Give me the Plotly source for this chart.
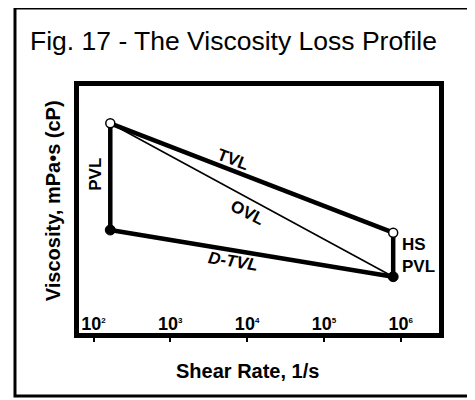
import plotly.graph_objects as go

# ---- data ----
shear_rate = [165, 8e5]                 # low-shear and high-shear points, 1/s
fresh_visc = [84.9, 40.6]               # open circles (initial oil)
used_visc = [41.7, 22.8]                # filled circles (after loss)
tick_vals = [1e2, 1e3, 1e4, 1e5, 1e6]
tick_exps = ["2", "3", "4", "5", "6"]

FONT = "Liberation Sans, Arial, Helvetica, sans-serif"
BLACK = "#000000"

fig = go.Figure()

def seg(x, y, w):
    fig.add_trace(go.Scatter(x=x, y=y, mode="lines",
                             line=dict(color=BLACK, width=w),
                             hoverinfo="skip", showlegend=False))

# TVL: fresh low -> fresh high
seg(shear_rate, fresh_visc, 4.5)
# OVL: fresh low -> used high
seg(shear_rate, [fresh_visc[0], used_visc[1]], 1.6)
# PVL: fresh low -> used low (vertical)
seg([shear_rate[0], shear_rate[0]], [fresh_visc[0], used_visc[0]], 4.5)
# D-TVL: used low -> used high
seg(shear_rate, used_visc, 4.5)
# HS PVL: fresh high -> used high (vertical)
seg([shear_rate[1], shear_rate[1]], [fresh_visc[1], used_visc[1]], 4.5)

fig.add_trace(go.Scatter(x=shear_rate, y=used_visc, mode="markers",
                         marker=dict(color=BLACK, size=10, line=dict(color=BLACK, width=1)),
                         hoverinfo="skip", showlegend=False))
fig.add_trace(go.Scatter(x=shear_rate, y=fresh_visc, mode="markers",
                         marker=dict(color="white", size=9, line=dict(color=BLACK, width=1.5)),
                         hoverinfo="skip", showlegend=False))

tick_text = ["10<sup><span style='font-size:8px'>%s</span></sup>" % e for e in tick_exps]

fig.update_xaxes(type="log", range=[1.81, 6.50],
                 tickvals=tick_vals, ticktext=tick_text,
                 ticks="outside", ticklen=4, tickwidth=1.5, tickcolor=BLACK,
                 ticklabelposition="inside",
                 tickfont=dict(family=FONT, size=18, color=BLACK, weight="bold"),
                 showline=True, linewidth=4.5, linecolor=BLACK, mirror=True,
                 showgrid=False, zeroline=False, fixedrange=True)
fig.update_yaxes(range=[0, 100], showticklabels=False, ticks="",
                 showline=True, linewidth=4.5, linecolor=BLACK, mirror=True,
                 showgrid=False, zeroline=False, fixedrange=True)

lab = dict(family=FONT, size=17, color=BLACK, weight="bold")
ann = []
ann.append(dict(x=3.816, y=70.4, xref="x", yref="y", text="TVL", textangle=21,
                showarrow=False, font=lab))
ann.append(dict(x=4.0, y=48.8, xref="x", yref="y", text="OVL", textangle=27,
                showarrow=False, font=lab))
ann.append(dict(x=3.816, y=28.8, xref="x", yref="y", text="<i>D-TVL</i>", textangle=9,
                showarrow=False, font=lab))
ann.append(dict(x=2.029, y=64.4, xref="x", yref="y", text="PVL", textangle=-90,
                showarrow=False, font=lab))
ann.append(dict(x=5.998, y=31.5, xref="x", yref="y", text="HS<br>PVL", align="left",
                xanchor="left", showarrow=False, font=lab))
# titles
ann.append(dict(x=-0.1416, y=1.182, xref="paper", yref="paper", xanchor="left", yanchor="middle",
                text="Fig. 17 - The Viscosity Loss Profile", showarrow=False,
                font=dict(family=FONT, size=26.5, color=BLACK)))
ann.append(dict(x=0.469, y=-0.154, xref="paper", yref="paper", xanchor="center", yanchor="middle",
                text="Shear Rate, 1/s", showarrow=False,
                font=dict(family=FONT, size=20, color=BLACK, weight="bold")))
ann.append(dict(x=-0.072, y=0.534, xref="paper", yref="paper", xanchor="center", yanchor="middle",
                text="Viscosity, mPa\u2022s (cP)", textangle=-90, showarrow=False,
                font=dict(family=FONT, size=20, color=BLACK, weight="bold")))

# the page adds an 8px body margin, so the figure is 8px smaller and shifted
fig.update_layout(
    width=467, height=392,
    margin=dict(l=71, r=36, t=78, b=67),
    paper_bgcolor="white", plot_bgcolor="white",
    annotations=ann,
    shapes=[dict(type="rect", xref="paper", yref="paper",
                 x0=-0.1778, x1=1.0917, y0=-0.2551, y1=1.3158,
                 line=dict(color=BLACK, width=3), layer="below")],
    showlegend=False,
)

fig.write_html("out.html", config={"displayModeBar": False})
